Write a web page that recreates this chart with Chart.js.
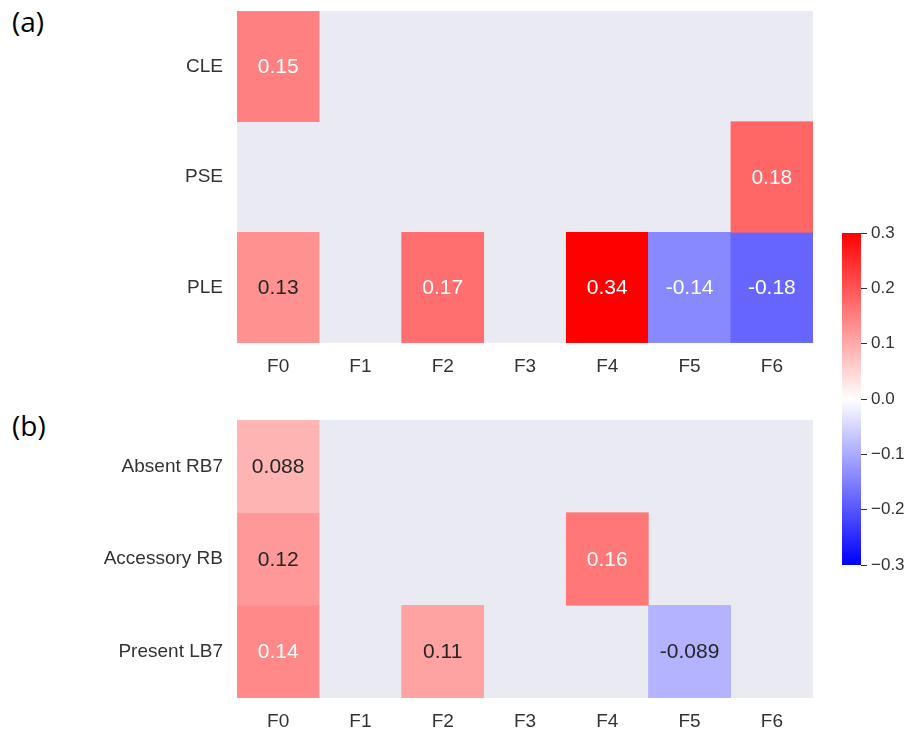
<!DOCTYPE html>
<html>
<head>
<meta charset="utf-8">
<script src="https://cdn.jsdelivr.net/npm/chart.js@4"></script>
<style>
  body { margin: 0; background: #fff; }
  #wrap { position: relative; width: 913px; height: 731px; overflow: hidden; }
  canvas { position: absolute; }
  .panel { position: absolute; font-family: "Open Sans", Lato, sans-serif; font-size: 28px; color: #000; }
</style>
</head>
<body>
<div id="wrap">
  <div class="panel" style="left:12px;top:2px">(a)</div>
  <div class="panel" style="left:12px;top:406px">(b)</div>
  <canvas id="chartA" width="840" height="380" style="left:0;top:0"></canvas>
  <canvas id="chartB" width="840" height="341" style="left:0;top:390px"></canvas>
  <canvas id="chartBar" width="83" height="360" style="left:830px;top:220px"></canvas>
</div>
<script>
// data
const features = ["F0", "F1", "F2", "F3", "F4", "F5", "F6"];

const rowsA = ["CLE", "PSE", "PLE"];
const cle = [0.15, null, null, null, null, null, null];
const pse = [null, null, null, null, null, null, 0.18];
const ple = [0.13, null, 0.17, null, 0.34, -0.14, -0.18];

const rowsB = ["Absent RB7", "Accessory RB", "Present LB7"];
const absentRB7 = [0.088, null, null, null, null, null, null];
const accessoryRB = [0.12, null, null, null, 0.16, null, null];
const presentLB7 = [0.14, null, 0.11, null, null, -0.089, null];

const cbarTicks = [-0.3, -0.2, -0.1, 0.0, 0.1, 0.2, 0.3];
const vmin = -0.3, vmax = 0.3;

const FONT = "Liberation Sans";
const tickColor = "#333333";
const tickFont = { family: FONT, size: 19 };

// bwr colormap
function bwr(v) {
    let t = (v - vmin) / (vmax - vmin);
    t = Math.max(0, Math.min(1, t));
    let r, g, b;
    if (t < 0.5) {
        const s = t / 0.5;
        r = s; g = s; b = 1;
    } else {
        const s = (t - 0.5) / 0.5;
        r = 1; g = 1 - s; b = 1 - s;
    }
    return [r, g, b];
}
function toCss(c) {
    return `rgb(${Math.round(c[0] * 255)},${Math.round(c[1] * 255)},${Math.round(c[2] * 255)})`;
}
function luminance(c) {
    const lin = c.map(x => x <= 0.03928 ? x / 12.92 : Math.pow((x + 0.055) / 1.055, 2.4));
    return 0.2126 * lin[0] + 0.7152 * lin[1] + 0.0722 * lin[2];
}

const bgPlugin = {
    id: "bgPlugin",
    beforeDatasetsDraw(chart) {
        const { ctx, chartArea } = chart;
        ctx.save();
        ctx.fillStyle = "#EAEAF2";
        ctx.fillRect(chartArea.left, chartArea.top, chartArea.right - chartArea.left, chartArea.bottom - chartArea.top);
        ctx.restore();
    }
};

const annotPlugin = {
    id: "annotPlugin",
    afterDatasetsDraw(chart) {
        const ctx = chart.ctx;
        ctx.save();
        ctx.font = "21px " + FONT;
        ctx.textAlign = "center";
        ctx.textBaseline = "middle";
        chart.data.datasets.forEach((ds, i) => {
            const meta = chart.getDatasetMeta(i);
            meta.data.forEach((bar, j) => {
                const v = ds.values[j];
                if (v === null) return;
                const p = bar.getCenterPoint();
                ctx.fillStyle = luminance(bwr(v)) > 0.408 ? "#262626" : "#ffffff";
                ctx.fillText(v.toPrecision(2), p.x, p.y + 1);
            });
        });
        ctx.restore();
    }
};

function makeHeatmap(id, rows, series, padTop, xHeight) {
    const datasets = series.map((vals, r) => ({
        label: rows[r],
        values: vals,
        data: vals.map(v => v === null ? null : [r, r + 1]),
        backgroundColor: vals.map(v => v === null ? "rgba(0,0,0,0)" : toCss(bwr(v))),
        borderColor: vals.map(v => v === null ? "rgba(0,0,0,0)" : toCss(bwr(v))),
        borderWidth: 0.5,
        borderSkipped: false,
        grouped: false,
        categoryPercentage: 1,
        barPercentage: 1
    }));

    return new Chart(document.getElementById(id), {
        type: "bar",
        data: { labels: features, datasets: datasets },
        options: {
            responsive: false,
            animation: false,
            layout: { padding: { top: padTop, right: 27, left: 0, bottom: 0 } },
            plugins: { legend: { display: false }, tooltip: { enabled: false } },
            scales: {
                x: {
                    grid: { display: false },
                    border: { display: false },
                    ticks: { color: tickColor, font: tickFont, padding: 4, maxRotation: 0 },
                    afterFit(scale) {
                        scale.height = xHeight;
                        scale.paddingLeft = 0;
                        scale.paddingRight = 0;
                    }
                },
                y: {
                    min: 0,
                    max: 3,
                    reverse: true,
                    grid: { display: false },
                    border: { display: false },
                    afterBuildTicks(scale) {
                        scale.ticks = [0.5, 1.5, 2.5].map(v => ({ value: v }));
                    },
                    ticks: {
                        color: tickColor,
                        font: tickFont,
                        padding: 6,
                        callback: (value) => rows[Math.floor(value)]
                    },
                    afterFit(scale) {
                        scale.width = 237;
                        scale.paddingTop = 0;
                        scale.paddingBottom = 0;
                    }
                }
            }
        },
        plugins: [bgPlugin, annotPlugin]
    });
}

makeHeatmap("chartA", rowsA, [cle, pse, ple], 11, 37);
makeHeatmap("chartB", rowsB, [absentRB7, accessoryRB, presentLB7], 30, 33);

// colorbar
new Chart(document.getElementById("chartBar"), {
    type: "bar",
    data: {
        labels: [""],
        datasets: [{
            data: [[vmin, vmax]],
            categoryPercentage: 1,
            barPercentage: 1,
            borderWidth: 0,
            backgroundColor(context) {
                const area = context.chart.chartArea;
                if (!area) return "#fff";
                const g = context.chart.ctx.createLinearGradient(0, area.bottom, 0, area.top);
                for (let i = 0; i <= 20; i++) {
                    const t = i / 20;
                    g.addColorStop(t, toCss(bwr(vmin + t * (vmax - vmin))));
                }
                return g;
            }
        }]
    },
    options: {
        responsive: false,
        animation: false,
        layout: { padding: { top: 13, bottom: 15, left: 12, right: 0 } },
        plugins: { legend: { display: false }, tooltip: { enabled: false } },
        scales: {
            x: { display: false },
            y: {
                position: "right",
                min: vmin,
                max: vmax,
                afterBuildTicks(scale) {
                    scale.ticks = cbarTicks.map(v => ({ value: v }));
                },
                grid: { drawOnChartArea: false, drawTicks: true, tickLength: 6, color: "#333" },
                border: { display: false },
                ticks: {
                    color: tickColor,
                    font: { family: FONT, size: 17 },
                    padding: 4,
                    callback: (value) => {
                        const s = Math.abs(value).toFixed(1);
                        return value < -1e-9 ? "\u2212" + s : s;
                    }
                },
                afterFit(scale) {
                    scale.width = 52;
                    scale.paddingTop = 0;
                    scale.paddingBottom = 0;
                }
            }
        }
    }
});
</script>
</body>
</html>
